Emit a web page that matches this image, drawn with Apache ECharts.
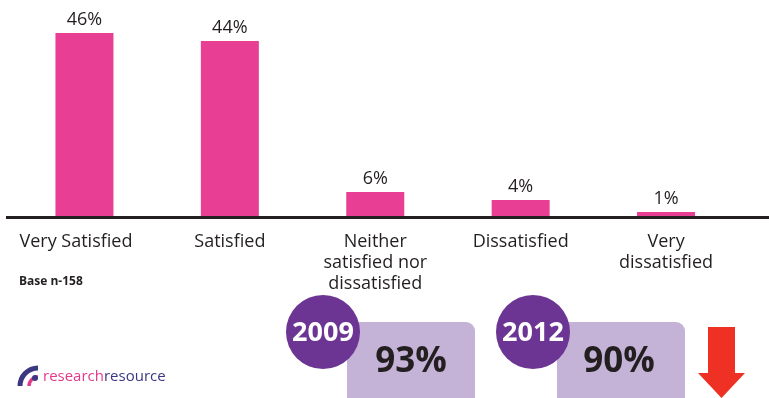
<!DOCTYPE html>
<html>
<head>
<meta charset="utf-8">
<script src="https://cdn.jsdelivr.net/npm/echarts@6/dist/echarts.min.js"></script>
<style>
html,body{margin:0;padding:0;background:#fff;}
#chart{width:769px;height:398px;}
</style>
</head>
<body>
<div id="chart"></div>
<script>
var categories = ['Very Satisfied', 'Satisfied', 'Neither\nsatisfied nor\ndissatisfied', 'Dissatisfied', 'Very\ndissatisfied'];
var values = [46, 44, 6, 4, 1];
var years = ['2009', '2012'];
var yearTotals = ['93%', '90%'];
var baseNote = 'Base n-158';

var FONT = '"Open Sans", "Noto Sans", sans-serif';
var chart = echarts.init(document.getElementById('chart'), null, {renderer: 'canvas'});

var graphics = [
  // axis baseline
  {type: 'rect', shape: {x: 6, y: 216, width: 763, height: 3}, style: {fill: '#231f20'}, z: 10},
  {type: 'text', left: 19, top: 276, style: {text: baseNote, font: 'bold 12px ' + FONT, fill: '#231f20'}},
  // 2009 box
  {type: 'rect', shape: {x: 347, y: 322, width: 128, height: 90, r: 9}, style: {fill: '#c4b3d7'}},
  {type: 'circle', shape: {cx: 323, cy: 332, r: 37}, style: {fill: '#6c3594'}},
  {type: 'text', x: 323, y: 333, style: {text: years[0], font: 'bold 27px ' + FONT, fill: '#fff', align: 'center', verticalAlign: 'middle'}},
  {type: 'text', x: 411, y: 362, style: {text: yearTotals[0], font: 'bold 35px ' + FONT, fill: '#231f20', align: 'center', verticalAlign: 'middle'}},
  // 2012 box
  {type: 'rect', shape: {x: 557, y: 322, width: 128, height: 90, r: 9}, style: {fill: '#c4b3d7'}},
  {type: 'circle', shape: {cx: 533, cy: 332, r: 37}, style: {fill: '#6c3594'}},
  {type: 'text', x: 533, y: 333, style: {text: years[1], font: 'bold 27px ' + FONT, fill: '#fff', align: 'center', verticalAlign: 'middle'}},
  {type: 'text', x: 619, y: 362, style: {text: yearTotals[1], font: 'bold 35px ' + FONT, fill: '#231f20', align: 'center', verticalAlign: 'middle'}},
  // red arrow
  {type: 'polygon', shape: {points: [[708,327],[735,327],[735,373],[745,373],[721.5,398],[698,373],[708,373]]}, style: {fill: '#ee3124'}},
  // logo icon
  {type: 'arc', shape: {cx: 38, cy: 386, r: 18, startAngle: Math.PI, endAngle: Math.PI * 1.5}, style: {stroke: '#3b3780', lineWidth: 5, fill: null}},
  {type: 'arc', shape: {cx: 38, cy: 386, r: 9, startAngle: Math.PI, endAngle: Math.PI * 1.5}, style: {stroke: '#e5398c', lineWidth: 3.5, fill: null}},
  {type: 'circle', shape: {cx: 35, cy: 378, r: 3}, style: {fill: '#3b3780'}},
  {type: 'text', x: 43, y: 377, style: {
    text: '{a|research}{b|resource}', verticalAlign: 'middle',
    rich: {a: {font: '500 15px ' + FONT, fill: '#e5398c'}, b: {font: '15px ' + FONT, fill: '#3b3780'}}
  }}
];

var categoryData = categories.map(function (c, i) {
  return i === 0 ? {value: c, textStyle: {padding: [0, 17, 0, 0]}} : c;
});

chart.setOption({
  animation: false,
  grid: {left: 11.75, right: 30.25, top: 17, bottom: 182, containLabel: false},
  xAxis: {
    type: 'category',
    data: categoryData,
    axisLine: {show: false},
    axisTick: {show: false},
    axisLabel: {margin: 15, fontSize: 18, lineHeight: 21, color: '#231f20', fontFamily: FONT, interval: 0}
  },
  yAxis: {
    type: 'value', min: 0, max: 50,
    show: false, splitLine: {show: false}
  },
  series: [{
    type: 'bar',
    data: values,
    barWidth: 58,
    itemStyle: {color: '#e83e94'},
    label: {show: true, position: 'top', distance: 4, formatter: '{c}%', fontSize: 18, color: '#231f20', fontFamily: FONT}
  }],
  graphic: graphics
});
</script>
</body>
</html>
